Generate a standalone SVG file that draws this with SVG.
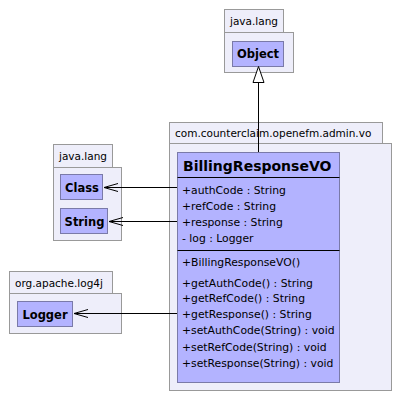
<svg xmlns="http://www.w3.org/2000/svg" width="401" height="401" viewBox="0 0 401 401">
<defs>
<style>
.pkg{fill:#eeeefa;stroke:#999999;stroke-width:1}
.cls{fill:#b3b3ff;stroke:#7a7aa8;stroke-width:1}
.pt{font-family:"DejaVu Sans",sans-serif;font-size:10.5px;fill:#000}
.cn{font-family:"DejaVu Sans",sans-serif;font-size:11.5px;font-weight:bold;fill:#000}
.tn{font-family:"DejaVu Sans",sans-serif;font-size:14px;font-weight:bold;fill:#000}
.m{font-family:"DejaVu Sans",sans-serif;font-size:10.8px;fill:#000}
.ln{stroke:#000;stroke-width:1;fill:none}
</style>
<marker id="open" markerWidth="16" markerHeight="10" refX="15" refY="5" orient="auto" markerUnits="userSpaceOnUse">
<path d="M1,1 L15,5 L1,9" fill="none" stroke="#000" stroke-width="1"/>
</marker>
</defs>
<g id="pkg-java-lang-top">
<rect class="pkg" x="224.5" y="9.5" width="59" height="23"/>
<rect class="pkg" x="224.5" y="32.5" width="69" height="40"/>
<text class="pt" x="230" y="25">java.lang</text>
</g>
<g id="Object">
<rect class="cls" x="232.5" y="41.5" width="51" height="25"/>
<text class="cn" x="258" y="58" text-anchor="middle">Object</text>
</g>
<g id="pkg-vo">
<rect class="pkg" x="169.5" y="122.5" width="213" height="21"/>
<rect class="pkg" x="169.5" y="143.5" width="222" height="247"/>
<text class="pt" x="175" y="137">com.counterclaim.openefm.admin.vo</text>
</g>
<g id="pkg-java-lang">
<rect class="pkg" x="53.5" y="144.5" width="59" height="23"/>
<rect class="pkg" x="53.5" y="167.5" width="68" height="73"/>
<text class="pt" x="59" y="160">java.lang</text>
</g>
<g id="Class">
<rect class="cls" x="60.5" y="174.5" width="42" height="25"/>
<text class="cn" x="82" y="191.5" text-anchor="middle">Class</text>
</g>
<g id="String">
<rect class="cls" x="60.5" y="208.5" width="47" height="25"/>
<text class="cn" x="84.5" y="225.5" text-anchor="middle">String</text>
</g>
<g id="pkg-log4j">
<rect class="pkg" x="9.5" y="271.5" width="103" height="22"/>
<rect class="pkg" x="9.5" y="293.5" width="112" height="40"/>
<text class="pt" x="15" y="287">org.apache.log4j</text>
</g>
<g id="Logger">
<rect class="cls" x="17.5" y="301.5" width="55" height="25"/>
<text class="cn" x="45" y="318.5" text-anchor="middle">Logger</text>
</g>
<g id="BillingResponseVO">
<rect class="cls" x="177.5" y="152.5" width="162" height="230"/>
<text class="tn" x="183" y="171">BillingResponseVO</text>
<line class="ln" x1="177.5" y1="177.5" x2="339.5" y2="177.5"/>
<text class="m" x="182" y="194">+authCode : String</text>
<text class="m" x="182" y="210">+refCode : String</text>
<text class="m" x="182" y="226">+response : String</text>
<text class="m" x="182" y="242">- log : Logger</text>
<line class="ln" x1="177.5" y1="250.5" x2="339.5" y2="250.5"/>
<text class="m" x="182" y="266">+BillingResponseVO()</text>
<text class="m" x="182" y="287">+getAuthCode() : String</text>
<text class="m" x="182" y="302">+getRefCode() : String</text>
<text class="m" x="182" y="318">+getResponse() : String</text>
<text class="m" x="182" y="334">+setAuthCode(String) : void</text>
<text class="m" x="182" y="351">+setRefCode(String) : void</text>
<text class="m" x="182" y="367">+setResponse(String) : void</text>
</g>
<g id="connectors">
<line class="ln" x1="258.5" y1="152" x2="258.5" y2="82"/>
<path d="M258.5,66.5 L253,82.5 L264,82.5 Z" fill="#fff" stroke="#000" stroke-width="1"/>
<line class="ln" x1="177" y1="187.5" x2="104" y2="187.5" marker-end="url(#open)"/>
<line class="ln" x1="177" y1="221.5" x2="109" y2="221.5" marker-end="url(#open)"/>
<line class="ln" x1="177" y1="313.5" x2="74" y2="313.5" marker-end="url(#open)"/>
</g>
</svg>
